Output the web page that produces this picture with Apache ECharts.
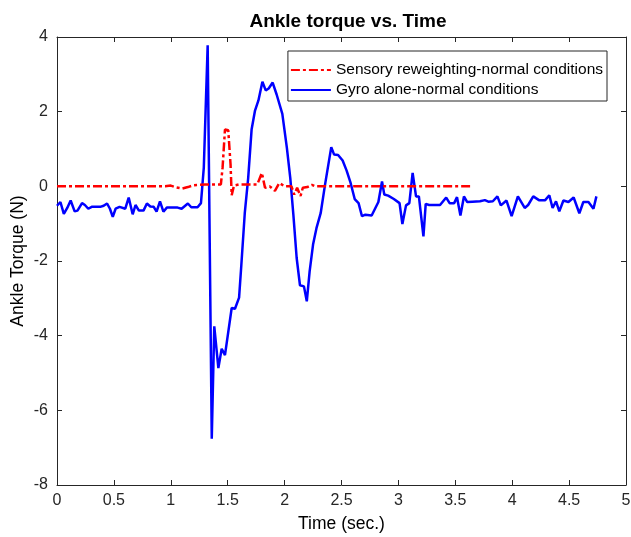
<!DOCTYPE html>
<html>
<head>
<meta charset="utf-8">
<script src="https://cdn.jsdelivr.net/npm/echarts@6/dist/echarts.min.js"></script>
<style>html,body{margin:0;padding:0;background:#fff}#c{width:631px;height:537px}</style>
</head>
<body>
<div id="c"></div>
<script>
var xTicks = [0, 0.5, 1, 1.5, 2, 2.5, 3, 3.5, 4, 4.5, 5];
var yTicks = [-8, -6, -4, -2, 0, 2, 4];

var gyroTime = [0.00,0.03,0.06,0.09,0.12,0.155,0.18,0.22,0.245,0.275,0.305,0.34,0.38,0.41,0.44,0.465,0.49,0.515,0.55,0.60,0.63,0.665,0.69,0.72,0.76,0.79,0.82,0.85,0.875,0.905,0.935,0.965,1.02,1.06,1.095,1.15,1.18,1.235,1.265,1.29,1.324,1.36,1.382,1.418,1.447,1.476,1.535,1.564,1.60,1.62,1.65,1.68,1.71,1.74,1.77,1.805,1.834,1.86,1.895,1.93,1.98,2.02,2.05,2.077,2.106,2.135,2.17,2.195,2.22,2.25,2.28,2.317,2.355,2.41,2.435,2.47,2.51,2.545,2.58,2.616,2.65,2.68,2.71,2.765,2.824,2.856,2.876,2.91,2.96,3.01,3.035,3.067,3.096,3.125,3.155,3.18,3.22,3.24,3.27,3.32,3.366,3.42,3.45,3.49,3.515,3.545,3.576,3.605,3.65,3.717,3.76,3.79,3.83,3.87,3.90,3.95,3.995,4.05,4.11,4.14,4.185,4.235,4.29,4.326,4.355,4.385,4.414,4.45,4.494,4.54,4.59,4.625,4.67,4.714,4.74];
var gyroTorque = [-0.52,-0.42,-0.74,-0.58,-0.38,-0.67,-0.65,-0.45,-0.50,-0.60,-0.55,-0.55,-0.55,-0.52,-0.46,-0.60,-0.82,-0.60,-0.55,-0.60,-0.30,-0.75,-0.50,-0.65,-0.65,-0.46,-0.54,-0.55,-0.68,-0.40,-0.68,-0.57,-0.57,-0.57,-0.60,-0.46,-0.56,-0.56,-0.45,0.50,3.78,-6.76,-3.75,-4.87,-4.35,-4.52,-3.26,-3.28,-2.98,-2.10,-0.72,0.22,1.52,2.03,2.30,2.80,2.57,2.62,2.78,2.46,1.94,1.03,0.22,-0.76,-1.92,-2.65,-2.68,-3.08,-2.28,-1.56,-1.12,-0.72,0.04,1.05,0.85,0.84,0.69,0.42,0.09,-0.34,-0.45,-0.80,-0.76,-0.78,-0.42,0.13,-0.22,-0.25,-0.34,-0.45,-1.01,-0.51,-0.45,0.36,-0.27,-0.27,-1.34,-0.47,-0.50,-0.50,-0.50,-0.30,-0.45,-0.45,-0.29,-0.78,-0.27,-0.42,-0.41,-0.40,-0.37,-0.41,-0.40,-0.27,-0.51,-0.38,-0.80,-0.27,-0.58,-0.50,-0.27,-0.37,-0.37,-0.24,-0.58,-0.40,-0.67,-0.38,-0.42,-0.30,-0.72,-0.42,-0.42,-0.60,-0.27];

var sensTime = [0,0.95,1.0,1.05,1.1,1.15,1.2,1.3,1.44,1.455,1.476,1.505,1.525,1.535,1.555,1.6,1.76,1.8,1.828,1.87,1.915,1.953,2.0,2.06,2.085,2.11,2.14,2.16,2.2,2.24,2.27,3.63];
var sensTorque = [0,0,0.02,-0.03,-0.06,-0.02,0.03,0.05,0.05,0.5,1.52,1.5,0.59,-0.24,0.02,0.05,0.05,0.36,-0.04,0,-0.12,0.09,0,0,-0.22,-0.04,-0.26,-0.04,-0.02,0.04,0,0];

function pairs(t, v) { var out = []; for (var i = 0; i < t.length; i++) out.push([t[i], v[i]]); return out; }

var axisColor = '#262626';
var font = 'Liberation Sans, Arial, Helvetica, sans-serif';
var chart = echarts.init(document.getElementById('c'), null, {renderer: 'canvas'});
chart.setOption({
  animation: false,
  backgroundColor: '#fff',
  title: {
    text: 'Ankle torque vs. Time',
    left: 343, top: 7, textAlign: 'center',
    textStyle: {fontFamily: font, fontSize: 19, fontWeight: 'bold', color: '#000'}
  },
  legend: {
    orient: 'vertical', right: 24, top: 51,
    backgroundColor: '#fff', borderColor: axisColor, borderWidth: 1,
    padding: [11, 4, 3, 2], itemGap: 4, itemWidth: 40, itemHeight: 15,
    itemStyle: {opacity: 0},
    textStyle: {fontFamily: font, fontSize: 15.5, color: '#000'},
    data: ['Sensory reweighting-normal conditions', 'Gyro alone-normal conditions']
  },
  grid: {left: 57, right: 5, top: 37, bottom: 52, containLabel: false, outerBoundsMode: 'none'},
  xAxis: [{
    type: 'value', min: xTicks[0], max: xTicks[xTicks.length - 1], interval: 0.5,
    name: 'Time (sec.)', nameLocation: 'middle', nameGap: 30,
    nameTextStyle: {fontFamily: font, fontSize: 17.5, color: '#000'},
    axisLine: {show: true, onZero: false, lineStyle: {color: axisColor, width: 1}},
    axisTick: {show: true, inside: true, length: 5, lineStyle: {color: axisColor}},
    axisLabel: {fontFamily: font, fontSize: 16, color: axisColor, margin: 8},
    splitLine: {show: false}
  }, {
    type: 'value', position: 'top', min: 0, max: 5, interval: 0.5,
    axisLine: {show: true, onZero: false, lineStyle: {color: axisColor, width: 1}},
    axisTick: {show: true, inside: true, length: 5, lineStyle: {color: axisColor}},
    axisLabel: {show: false}, splitLine: {show: false}
  }],
  yAxis: [{
    type: 'value', min: yTicks[0], max: yTicks[yTicks.length - 1], interval: 2,
    name: 'Ankle Torque (N)', nameLocation: 'middle', nameGap: 30, nameMoveOverlap: false,
    nameTextStyle: {fontFamily: font, fontSize: 17.5, color: '#000'},
    axisLine: {show: true, onZero: false, lineStyle: {color: axisColor, width: 1}},
    axisTick: {show: true, inside: true, length: 5, lineStyle: {color: axisColor}},
    axisLabel: {fontFamily: font, fontSize: 16, color: axisColor, margin: 9},
    splitLine: {show: false}
  }, {
    type: 'value', position: 'right', min: -8, max: 4, interval: 2,
    axisLine: {show: true, onZero: false, lineStyle: {color: axisColor, width: 1}},
    axisTick: {show: true, inside: true, length: 5, lineStyle: {color: axisColor}},
    axisLabel: {show: false}, splitLine: {show: false}
  }],
  series: [{
    name: 'Sensory reweighting-normal conditions', type: 'line',
    symbol: 'none', z: 3,
    data: pairs(sensTime, sensTorque),
    lineStyle: {color: '#ff0000', width: 2.5, type: [9, 3, 3, 3]},
    itemStyle: {color: '#ff0000'}
  }, {
    name: 'Gyro alone-normal conditions', type: 'line',
    symbol: 'none', z: 2,
    data: pairs(gyroTime, gyroTorque),
    lineStyle: {color: '#0000ff', width: 2.5},
    itemStyle: {color: '#0000ff'}
  }]
});
</script>
</body>
</html>
